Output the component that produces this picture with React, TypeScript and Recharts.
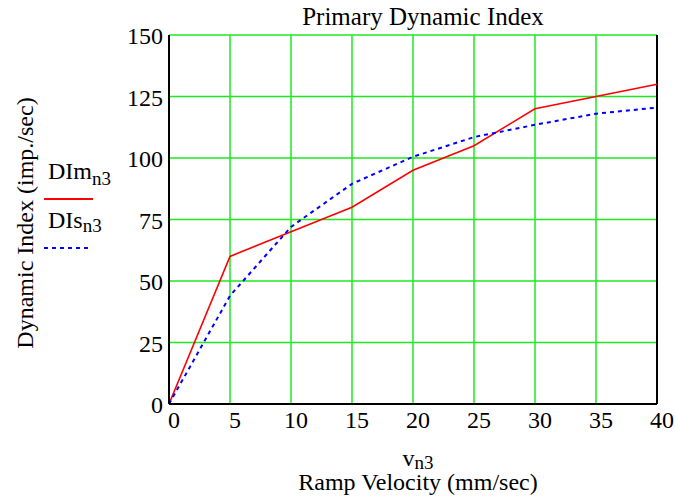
import { CartesianGrid, Legend, Line, LineChart, ReferenceLine, XAxis, YAxis } from "recharts";

const velocity = [0, 5, 10, 15, 20, 25, 30, 35, 40];
const dimN3 = [0, 60, 70, 80, 95, 105, 120, 125, 130];
const disN3 = [0, 44, 72, 89.5, 100.5, 108.5, 113.5, 118, 120.5];
const xTicks = [0, 5, 10, 15, 20, 25, 30, 35, 40];
const yTicks = [0, 25, 50, 75, 100, 125, 150];
const seriesNames = ["DIm", "DIs"];
const subscript = "n3";

const data = velocity.map((v, i) => ({ v, [seriesNames[0]]: dimN3[i], [seriesNames[1]]: disN3[i] }));

const FONT = '"Liberation Serif", "Times New Roman", serif';
const GRID = "#1ee81e";

function XTick({ x, y, payload }: any) {
  return (
    <text x={x + 5} y={y} dy={16} textAnchor="middle" fontFamily={FONT} fontSize={24} fill="#000">
      {payload.value}
    </text>
  );
}

function YTick({ x, y, payload }: any) {
  return (
    <text x={x + 2} y={y} dy={9} textAnchor="end" fontFamily={FONT} fontSize={24} fill="#000">
      {payload.value}
    </text>
  );
}

function renderLegend({ payload }: any) {
  return (
    <div style={{ position: "relative", width: 80, height: 100, fontFamily: FONT, color: "#000" }}>
      {(payload ?? []).map((entry: any, i: number) => (
        <div key={entry.value} style={{ position: "absolute", left: 0, top: i * 49 }}>
          <div style={{ fontSize: 24, lineHeight: "24px", marginLeft: 4, whiteSpace: "nowrap" }}>
            {entry.value}
            <span style={{ fontSize: 19, position: "relative", top: i ? 4 : 6 }}>{subscript}</span>
          </div>
          <svg width={50} height={8} style={{ display: "block", marginTop: 10 }}>
            <line
              x1={0}
              x2={i ? 44 : 49}
              y1={4}
              y2={4}
              stroke={entry.color}
              strokeWidth={2}
              strokeDasharray={i ? "4 4" : undefined}
            />
          </svg>
        </div>
      ))}
    </div>
  );
}

export default function App() {
  return (
    <div style={{ position: "absolute", left: 0, top: 0, width: 676, height: 502, background: "#fff" }}>
      <div
        style={{
          position: "absolute",
          left: 423,
          top: 4,
          transform: "translateX(-50%)",
          fontFamily: FONT,
          fontSize: 25,
          lineHeight: "25px",
          whiteSpace: "nowrap",
          color: "#000",
        }}
      >
        Primary Dynamic Index
      </div>
      <LineChart width={676} height={502} data={data} margin={{ top: 35, right: 19, bottom: 68, left: 109 }}>
        <CartesianGrid stroke={GRID} strokeWidth={1.5} />
        <XAxis
          dataKey="v"
          type="number"
          domain={[0, 40]}
          ticks={xTicks}
          height={30}
          axisLine={{ stroke: "#000", strokeWidth: 2 }}
          tickLine={false}
          tick={<XTick />}
          label={{
            content: () => (
              <g fontFamily={FONT} fill="#000">
                <text x={418} y={466} textAnchor="middle" fontSize={24}>
                  v<tspan fontSize={19} dy={3}>{subscript}</tspan>
                </text>
                <text x={418} y={490} textAnchor="middle" fontSize={24}>
                  Ramp Velocity (mm/sec)
                </text>
              </g>
            ),
          }}
        />
        <YAxis
          type="number"
          domain={[0, 150]}
          ticks={yTicks}
          width={60}
          axisLine={{ stroke: "#000", strokeWidth: 2 }}
          tickLine={false}
          tick={<YTick />}
          label={{
            content: () => (
              <text
                x={33}
                y={223}
                transform="rotate(-90, 33, 223)"
                textAnchor="middle"
                fontFamily={FONT}
                fontSize={24}
                fill="#000"
              >
                Dynamic Index (imp./sec)
              </text>
            ),
          }}
        />
        <ReferenceLine x={40} stroke="#000" strokeWidth={2} />
        <Legend
          layout="vertical"
          align="center"
          verticalAlign="middle"
          content={renderLegend}
          wrapperStyle={{ left: 44, top: 159, width: 80 }}
        />
        <Line
          type="linear"
          dataKey={seriesNames[0]}
          name={seriesNames[0]}
          stroke="#ff0000"
          strokeWidth={1.6}
          dot={false}
          activeDot={false}
          isAnimationActive={false}
        />
        <Line
          type="linear"
          dataKey={seriesNames[1]}
          name={seriesNames[1]}
          stroke="#0000ff"
          strokeWidth={2}
          strokeDasharray="4 4"
          dot={false}
          activeDot={false}
          isAnimationActive={false}
        />
      </LineChart>
    </div>
  );
}
